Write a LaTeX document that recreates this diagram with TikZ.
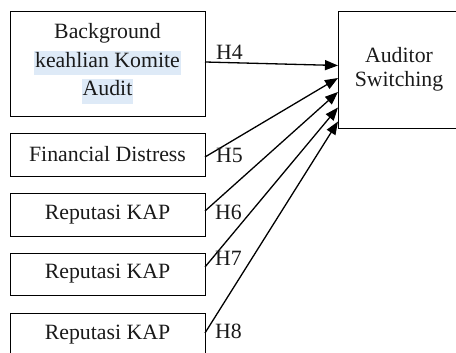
\documentclass[tikz,border=0pt]{standalone}
\usepackage{fontspec}
\setmainfont{Liberation Serif}
\usetikzlibrary{arrows.meta}
\definecolor{hlblue}{HTML}{DEEAF7}
\definecolor{txt}{HTML}{1A1A1A}
\newcommand\hlbox[1]{{\setlength{\fboxsep}{1pt}\colorbox{hlblue}{\rule[-7pt]{0pt}{16pt}#1}}}
\begin{document}
\begin{tikzpicture}[x=1pt,y=1pt,
  varbox/.style={draw=black,line width=0.9pt,inner sep=0pt,outer sep=0pt,
    minimum width=195pt,text=txt,font=\fontsize{21.8}{28.5}\selectfont,align=center},
  hyparrow/.style={line width=1.3pt,-{Triangle[length=13pt,width=10pt]}},
  hlabel/.style={anchor=base west,inner sep=0pt,text=txt,font=\fontsize{21.8}{24}\selectfont}]
\useasboundingbox (0,0) rectangle (456,353);
\clip (0,0) rectangle (456,353);
\node[varbox,minimum height=105pt] (b1) at (107.5,289.5)
  {Background\\\hlbox{keahlian Komite}\\\hlbox{Audit}};
\node[varbox,minimum height=43pt] (b2) at (107.5,198.5) {Financial Distress};
\node[varbox,minimum height=43pt] (b3) at (107.5,138.5) {Reputasi KAP};
\node[varbox,minimum height=42pt] (b4) at (107.5,79) {Reputasi KAP};
\node[varbox,minimum height=43pt] (b5) at (107.5,18.5) {Reputasi KAP};
\node[varbox,minimum width=122pt,minimum height=117pt,font=\fontsize{21.8}{24}\selectfont] (aud) at (399,283.5) {Auditor\\Switching};
\draw[hyparrow] ([yshift=1.5pt]b1.east) -- ([yshift=4pt]aud.west);
\draw[hyparrow] ([yshift=-2.5pt]b2.east) -- ([yshift=-8.5pt]aud.west);
\draw[hyparrow] ([yshift=3.5pt]b3.east) -- ([yshift=-22.5pt]aud.west);
\draw[hyparrow] ([yshift=7pt]b4.east) -- ([yshift=-38pt]aud.west);
\draw[hyparrow] ([yshift=1.5pt]b5.east) -- ([yshift=-52pt]aud.west);
\node[hlabel] (h4) at (216,293) {H4};
\node[hlabel] (h5) at (216,190) {H5};
\node[hlabel] (h6) at (215,133) {H6};
\node[hlabel] (h7) at (215,87) {H7};
\node[hlabel] (h8) at (215,14) {H8};
\end{tikzpicture}
\end{document}
